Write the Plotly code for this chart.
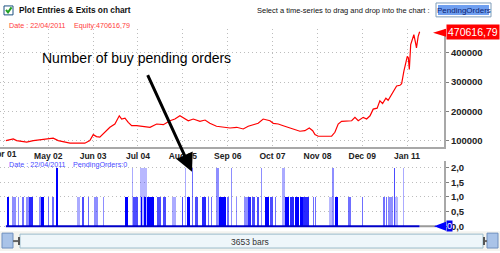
import plotly.graph_objects as go
import pandas as pd

W, H = 500, 253

# ---------------- data ----------------
eq_dates = ["2001-04-22", "2001-06-26", "2001-07-26", "2001-10-23", "2001-12-20",
            "2002-03-17", "2002-06-14", "2002-07-28", "2002-10-10", "2002-11-09",
            "2003-03-20", "2003-05-03", "2003-06-02", "2003-07-01", "2003-07-30",
            "2003-09-14", "2003-10-27", "2003-12-10", "2004-01-18", "2004-02-08",
            "2004-03-08", "2004-04-06", "2004-05-06", "2004-06-19", "2004-08-17",
            "2004-09-30", "2004-10-15", "2004-12-13", "2005-02-10", "2005-04-09",
            "2005-05-23", "2005-07-06", "2005-08-04", "2005-09-18", "2005-11-01",
            "2005-12-30", "2006-02-13", "2006-03-27", "2006-05-25", "2006-07-23",
            "2006-09-21", "2006-11-19", "2007-01-16", "2007-03-01", "2007-04-14",
            "2007-05-28", "2007-07-11", "2007-08-10", "2007-09-09", "2007-10-08",
            "2007-11-21", "2008-01-04", "2008-03-03", "2008-05-01", "2008-05-30",
            "2008-07-13", "2008-08-21", "2008-09-20", "2008-10-10", "2008-11-08",
            "2009-03-06", "2009-04-04", "2009-05-03", "2009-06-02", "2009-07-16",
            "2009-08-30", "2009-09-28", "2009-10-27", "2009-12-10", "2010-01-09",
            "2010-02-08", "2010-03-08", "2010-04-12", "2010-05-06", "2010-05-30",
            "2010-06-28", "2010-07-18", "2010-08-17", "2010-09-16", "2010-10-01",
            "2010-10-30", "2010-11-14", "2010-12-04", "2010-12-22", "2011-01-03",
            "2011-01-12", "2011-01-21", "2011-02-02", "2011-02-20", "2011-03-02",
            "2011-03-17", "2011-03-25", "2011-04-09", "2011-04-22"]
eq_vals = [101000, 106700, 101000, 95600, 101000,
           104400, 109100, 101000, 95600, 92200,
           92200, 101000, 121200, 114500, 112500,
           129300, 146200, 157300, 185300, 174200,
           177500, 163000, 151600, 151600, 148200,
           146200, 146200, 157300, 154900, 168400,
           174200, 185300, 177500, 168400, 174200,
           166400, 170800, 159700, 149600, 146200,
           143800, 146200, 140500, 149600, 154900,
           159700, 174200, 170800, 168400, 159700,
           157300, 151600, 143800, 137100, 132700,
           134700, 143800, 134700, 121200, 115800,
           115800, 129300, 157300, 166400, 166400,
           168400, 179900, 168400, 179900, 174200,
           185300, 207900, 211200, 235900, 227100,
           245000, 238200, 258400, 275300, 286400,
           288800, 294500, 337000, 361900, 387500,
           382200, 342700, 427000, 449600, 460700,
           432700, 415900, 455000, 470616.79]
assert len(eq_dates) == len(eq_vals)

first_bar_date = "2001-04-22"
total_bars = 3653

# pending orders periods (bar index from first bar), level, fraction of the period filled
po_start = [10, 54, 107, 142, 178, 204, 292, 310, 372, 407, 451, 628, 672, 725, 778, 857,
            1051, 1113, 1122, 1184, 1193, 1219, 1246, 1272, 1334, 1387, 1466, 1554, 1581,
            1599, 1643, 1669, 1731, 1784, 1810, 1855, 1881, 1952, 1987, 2031, 2102, 2137,
            2172, 2216, 2252, 2287, 2331, 2375, 2437, 2464, 2508, 2552, 2596, 2622, 2711,
            2728, 2852, 2878, 2905, 3020, 3143, 3328, 3355, 3373, 3426, 3434, 3505]
po_end = [27, 89, 116, 160, 204, 239, 310, 336, 381, 425, 460, 654, 689, 734, 813, 866,
          1078, 1122, 1166, 1246, 1201, 1237, 1272, 1307, 1369, 1413, 1502, 1563, 1590,
          1625, 1652, 1696, 1766, 1793, 1819, 1881, 1943, 1969, 1996, 2040, 2137, 2163,
          2199, 2234, 2261, 2322, 2358, 2384, 2464, 2499, 2543, 2587, 2622, 2675, 2719,
          2737, 2878, 2896, 2931, 3046, 3152, 3346, 3364, 3417, 3434, 3461, 3514]
po_level = [1, 1, 1, 1, 1, 1, 1, 1, 1, 1, 2, 1, 1, 1, 1, 1,
            1, 2, 1, 2, 1, 1, 1, 1, 1, 1, 1, 1, 2,
            1, 2, 1, 1, 1, 1, 2, 1, 1, 2, 1, 1, 1,
            1, 1, 2, 1, 1, 1, 2, 1, 1, 1, 1, 1, 1,
            1, 1, 2, 1, 1, 1, 1, 1, 1, 2, 1, 2]
po_fill = [1.0, 0.6, 0.6, 0.7, 0.6, 0.9, 0.6, 1.0, 0.7, 0.7, 1.0, 0.5, 0.8, 0.7, 0.6, 0.6,
           1.0, 0.5, 0.8, 0.45, 1.0, 1.0, 1.0, 1.0, 0.8, 0.8, 0.5, 0.8, 0.5,
           1.0, 0.7, 0.8, 0.9, 0.7, 0.7, 0.6, 1.0, 0.7, 0.6, 0.6, 0.6, 0.9,
           0.8, 0.8, 0.6, 1.0, 0.8, 0.7, 0.5, 1.0, 0.9, 1.0, 1.0, 0.9, 0.7,
           0.7, 0.45, 0.6, 1.0, 0.7, 0.7, 0.7, 0.7, 0.6, 0.8, 0.45, 0.5]
assert len(po_start) == len(po_end) == len(po_level) == len(po_fill)

x_ticks = ["2001-04-01", "2002-05-01", "2003-06-01", "2004-07-01", "2005-08-01",
           "2006-09-01", "2007-10-01", "2008-11-01", "2009-12-01", "2011-01-01"]
x_tick_text = ["Apr 01", "May 02", "Jun 03", "Jul 04", "Aug 05",
               "Sep 06", "Oct 07", "Nov 08", "Dec 09", "Jan 11"]
eq_ticks = [100000, 200000, 300000, 400000]
po_ticks = [0, 0.5, 1, 1.5, 2]
po_tick_text = ["0,0", "0,5", "1,0", "1,5", "2,0"]

last_equity_text = "470616,79"
last_po_text = "0"
date_text = "Date : 22/04/2011"

# ---------------- derived ----------------
t0 = pd.Timestamp(first_bar_date)
mids, widths, colors = [], [], []
for s, e, f in zip(po_start, po_end, po_fill):
    a = t0 + pd.Timedelta(days=s)
    b = t0 + pd.Timedelta(days=e)
    mids.append(a + (b - a) / 2)
    widths.append((b - a).total_seconds() * 1000)
    colors.append(f"rgba(0,0,255,{round(f ** 1.6, 3)})")
last_date = t0 + pd.Timedelta(days=total_bars - 1)

# the first tick label is cut by the window edge: draw it as an annotation
axis_labels = [""] + x_tick_text[1:]


def px(x):
    return x / W


def py(y):
    return 1 - y / H


fig = go.Figure()
fig.add_trace(go.Scatter(x=pd.to_datetime(eq_dates), y=eq_vals, mode="lines",
                         line=dict(color="#ff0000", width=1.2),
                         xaxis="x", yaxis="y", hoverinfo="skip"))
fig.add_trace(go.Bar(x=mids, y=po_level, width=widths,
                     marker=dict(color=colors, line=dict(width=0)),
                     xaxis="x2", yaxis="y2", hoverinfo="skip"))
fig.add_trace(go.Scatter(x=[t0, last_date], y=[0, 0], mode="lines",
                         line=dict(color="#0000c8", width=2),
                         xaxis="x2", yaxis="y2", hoverinfo="skip"))

grid_col = "#bdbdbd"
xrange_ = ["2001-03-01 02:00", "2011-11-23"]
dom_x = [0, px(444)]
xfont = dict(size=8.5, color="#222", weight="bold")

fig.update_layout(
    width=W, height=H,
    margin=dict(l=0, r=0, t=0, b=0),
    paper_bgcolor="white", plot_bgcolor="white",
    showlegend=False, barmode="overlay", bargap=0,
    font=dict(family="Liberation Sans, Arial, sans-serif", color="#222"),
    xaxis=dict(domain=dom_x, type="date", range=xrange_, anchor="y",
               tickvals=x_ticks, ticktext=axis_labels,
               tickfont=xfont,
               showgrid=True, gridcolor=grid_col, griddash="1px,3px", gridwidth=1,
               showline=True, linecolor="#a8a8a8", linewidth=1.5,
               ticks="", zeroline=False),
    yaxis=dict(domain=[py(148), py(29)], range=[79800, 480900], side="right", anchor="x",
               tickvals=eq_ticks, ticktext=[str(v) for v in eq_ticks],
               tickfont=dict(size=9.5, color="#222", weight="bold"),
               showgrid=True, gridcolor=grid_col, griddash="1px,3px", gridwidth=1,
               showline=True, linecolor="#a8a8a8", linewidth=2,
               ticks="outside", ticklen=3, tickcolor="#808080", zeroline=False),
    xaxis2=dict(domain=dom_x, type="date", range=xrange_, anchor="y2", matches="x",
                showticklabels=False, showgrid=False, showline=False, ticks="",
                zeroline=False),
    yaxis2=dict(domain=[py(231), py(162)], range=[-0.1, 2.24], side="right", anchor="x2",
                tickvals=po_ticks, ticktext=po_tick_text,
                tickfont=dict(size=9.5, color="#222", weight="bold"),
                showgrid=True, gridcolor=grid_col, griddash="1px,3px", gridwidth=1,
                showline=True, linecolor="#a8a8a8", linewidth=2,
                ticks="outside", ticklen=3, tickcolor="#808080", zeroline=False),
)

shapes = []
# bottom strip / scrollbar
shapes.append(dict(type="rect", xref="paper", yref="paper", x0=0, x1=1, y0=0, y1=py(233),
                   fillcolor="#f3f3ef", line=dict(width=0), layer="below"))
shapes.append(dict(type="rect", xref="paper", yref="paper", x0=px(20), x1=px(483),
                   y0=py(250), y1=py(236), fillcolor="#eef6fa",
                   line=dict(color="#9bbccc", width=1)))
for (a, b) in [(2, 13), (487, 498)]:
    shapes.append(dict(type="rect", xref="paper", yref="paper", x0=px(a), x1=px(b),
                       y0=py(250), y1=py(235), fillcolor="#a9c3e8",
                       line=dict(color="#6e8fbf", width=1)))
for (a, b) in [(13, 20), (483, 487)]:
    shapes.append(dict(type="line", xref="paper", yref="paper", x0=px(a), x1=px(b),
                       y0=py(243), y1=py(243), line=dict(color="#666", width=2)))
for xx in [19, 484]:
    shapes.append(dict(type="line", xref="paper", yref="paper", x0=px(xx), x1=px(xx),
                       y0=py(247), y1=py(239), line=dict(color="#555", width=2)))
# checkbox
shapes.append(dict(type="rect", xref="paper", yref="paper", x0=px(4), x1=px(13),
                   y0=py(15), y1=py(6), fillcolor="white",
                   line=dict(color="#1c5180", width=1)))
shapes.append(dict(type="path", xref="paper", yref="paper",
                   path=f"M {px(6)},{py(10)} L {px(8)},{py(12.5)} L {px(11.5)},{py(7.5)}",
                   line=dict(color="#21a121", width=2)))
# input box
shapes.append(dict(type="rect", xref="paper", yref="paper", x0=px(436), x1=px(491),
                   y0=py(17), y1=py(3), fillcolor="white",
                   line=dict(color="#7f9db9", width=1)))
shapes.append(dict(type="rect", xref="paper", yref="paper", x0=px(438), x1=px(489),
                   y0=py(15), y1=py(5), fillcolor="#6f9ff0", line=dict(width=0)))
# red last-value marker
shapes.append(dict(type="path", xref="paper", yref="paper",
                   path=f"M {px(433)},{py(33)} L {px(446)},{py(29)} L {px(446)},{py(37)} Z",
                   fillcolor="#ff0000", line=dict(width=0)))
# blue last-value marker and gray continuation
shapes.append(dict(type="line", xref="paper", yref="y2", x0=px(420), x1=px(436),
                   y0=0, y1=0, line=dict(color="#9a9a9a", width=2)))
shapes.append(dict(type="path", xref="paper", yref="paper",
                   path=f"M {px(434)},{py(228)} L {px(446)},{py(223.5)} L {px(446)},{py(232.5)} Z",
                   fillcolor="#0000ff", line=dict(width=0)))
fig.update_layout(shapes=shapes)

ann = []
ann.append(dict(x=x_ticks[0], y=py(155.5), xref="x", yref="paper", xanchor="center",
                yanchor="middle", showarrow=False, text=x_tick_text[0], font=xfont))
ann.append(dict(x=px(17), y=py(10.5), xref="paper", yref="paper", xanchor="left",
                yanchor="middle", showarrow=False, text="Plot Entries &amp; Exits on chart",
                font=dict(size=8.3, color="#111", weight="bold")))
ann.append(dict(x=px(255), y=py(10.5), xref="paper", yref="paper", xanchor="left",
                yanchor="middle", showarrow=False,
                text="Select a time-series to drag and drop into the chart :",
                font=dict(size=7.5, color="#111")))
ann.append(dict(x=px(463.5), y=py(10.5), xref="paper", yref="paper", xanchor="center",
                yanchor="middle", showarrow=False, text="PendingOrders",
                font=dict(size=8, color="#0b2170")))
ann.append(dict(x=px(7), y=py(26), xref="paper", yref="paper", xanchor="left",
                yanchor="middle", showarrow=False, text=date_text,
                font=dict(size=7.2, color="#ff3b3b")))
ann.append(dict(x=px(72), y=py(26), xref="paper", yref="paper", xanchor="left",
                yanchor="middle", showarrow=False, text="Equity:" + last_equity_text,
                font=dict(size=7.2, color="#ff3b3b")))
ann.append(dict(x=px(7), y=py(166), xref="paper", yref="paper", xanchor="left",
                yanchor="middle", showarrow=False, text=date_text,
                font=dict(size=7.2, color="#4a4aff")))
ann.append(dict(x=px(71), y=py(166), xref="paper", yref="paper", xanchor="left",
                yanchor="middle", showarrow=False, text="PendingOrders:" + last_po_text,
                font=dict(size=7.2, color="#4a4aff")))
ann.append(dict(x=px(446), y=eq_vals[-1], xref="paper", yref="y", xanchor="left",
                yanchor="middle", showarrow=False, text=last_equity_text,
                bgcolor="#ff0000", borderpad=1,
                font=dict(size=10.5, color="white")))
ann.append(dict(x=px(445.5), y=0, xref="paper", yref="y2", xanchor="left",
                yanchor="middle", showarrow=False, text=last_po_text,
                bgcolor="#0000ee", borderpad=0,
                font=dict(size=9, color="white")))
ann.append(dict(x=px(249.5), y=py(243.5), xref="paper", yref="paper", xanchor="center",
                yanchor="middle", showarrow=False, text=f"{total_bars} bars",
                font=dict(size=8.5, color="#333")))
ann.append(dict(x=px(136), y=py(58), xref="paper", yref="paper", xanchor="center",
                yanchor="middle", showarrow=False, text="Number of buy pending orders",
                font=dict(size=14, color="#000")))
ann.append(dict(x=px(192), y=py(173), xref="paper", yref="paper", text="",
                showarrow=True, arrowhead=2, arrowsize=1.2, arrowwidth=3,
                arrowcolor="#000", ax=-45, ay=-98, standoff=0))
fig.update_layout(annotations=ann)

fig.write_html("out.html")
